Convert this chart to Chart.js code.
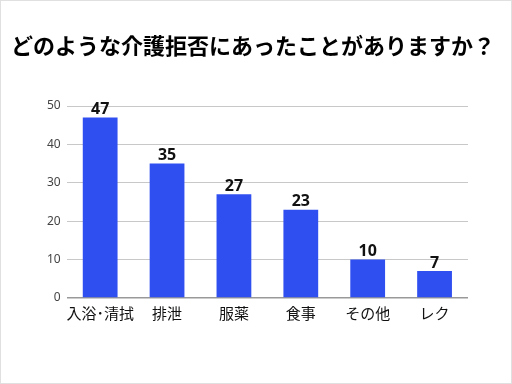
<!DOCTYPE html>
<html><head><meta charset="utf-8">
<script src="https://cdn.jsdelivr.net/npm/chart.js@4/dist/chart.umd.min.js"></script>
<style>
html,body{margin:0;padding:0;background:#fff;}
#wrap{position:absolute;left:0;top:0;width:510px;height:382px;border:1px solid #e0e0e0;}
canvas{display:block;}
</style></head>
<body><div id="wrap"><canvas id="c" width="510" height="382"></canvas></div>
<script>
const categories = ["入浴･清拭", "排泄", "服薬", "食事", "その他", "レク"];
const values = [47, 35, 27, 23, 10, 7];
const yTicks = [0, 10, 20, 30, 40, 50];
const titleText = "どのような介護拒否にあったことがありますか？";

const labelPlugin = {
  id: 'vals',
  afterDatasetsDraw(chart) {
    const ctx = chart.ctx;
    const meta = chart.getDatasetMeta(0);
    ctx.save();
    ctx.font = 'bold 16px "Noto Sans", sans-serif';
    ctx.fillStyle = '#111';
    ctx.textAlign = 'center';
    ctx.textBaseline = 'bottom';
    meta.data.forEach((bar, i) => {
      ctx.fillText(String(values[i]), bar.x, bar.y);
    });
    ctx.restore();
  },
  afterDraw(chart) {
    const ctx = chart.ctx;
    ctx.save();
    ctx.font = 'bold 22px "Noto Sans CJK JP", sans-serif';
    ctx.fillStyle = '#000';
    ctx.textAlign = 'center';
    ctx.textBaseline = 'middle';
    ctx.fillText(titleText, chart.width / 2 - 3, 45);
    ctx.restore();
  }
};

new Chart(document.getElementById('c'), {
  type: 'bar',
  data: {
    labels: categories,
    datasets: [{
      data: values,
      backgroundColor: '#304FF0',
      barPercentage: 0.52,
      categoryPercentage: 1.0
    }]
  },
  options: {
    responsive: false,
    animation: false,
    layout: { padding: { left: 40, right: 43, top: 105, bottom: 55 } },
    plugins: {
      legend: { display: false },
      tooltip: { enabled: false },
      title: { display: false }
    },
    scales: {
      y: {
        min: 0, max: 50,
        afterBuildTicks(axis) { axis.ticks = yTicks.map(v => ({ value: v })); },
        ticks: { color: '#444', font: { family: '"Noto Sans", sans-serif', size: 12 }, padding: 6 },
        grid: {
          color: (c) => c.tick && c.tick.value === 0 ? '#999' : '#c8c8c8',
          lineWidth: (c) => c.tick && c.tick.value === 0 ? 1.5 : 1,
          drawTicks: false
        },
        border: { display: false }
      },
      x: {
        ticks: { color: '#111', font: { family: '"Noto Sans CJK JP", sans-serif', size: 15 }, padding: 6, maxRotation: 0, autoSkip: false },
        grid: { display: false, drawTicks: false },
        border: { display: false }
      }
    }
  },
  plugins: [labelPlugin]
});
</script>
</body></html>
